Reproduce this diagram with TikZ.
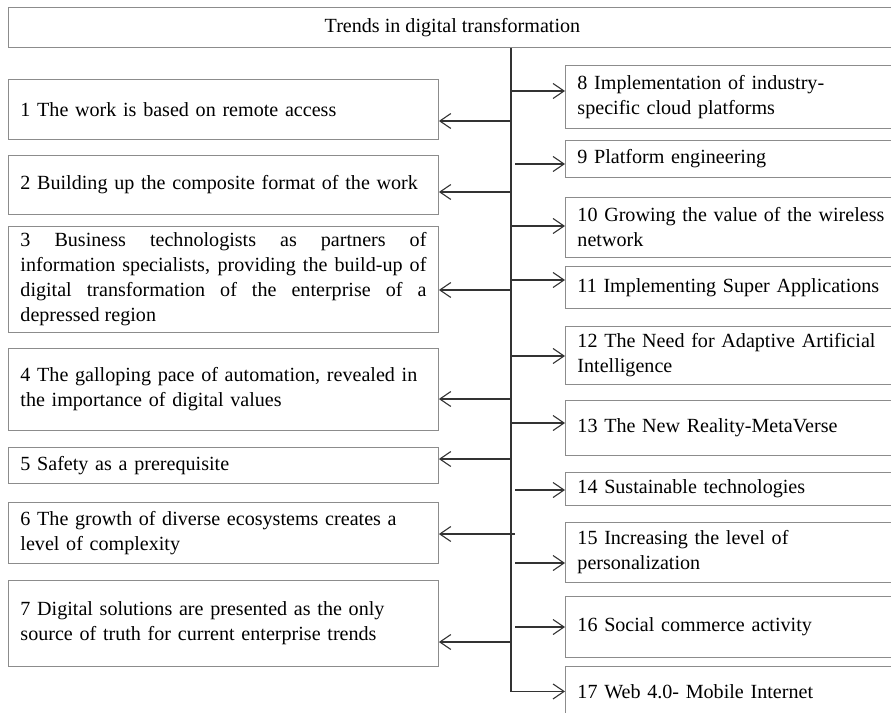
\documentclass[tikz,border=0pt]{standalone}
\usepackage{fontspec}
\setmainfont{Liberation Serif}
\usetikzlibrary{arrows.meta}

\begin{document}
\begin{tikzpicture}[x=1pt,y=-1pt,
  font=\fontsize{20.1}{25}\selectfont,
  trend/.style={draw=black!45,line width=0.9pt,inner xsep=12pt,inner ysep=0pt,
    anchor=north west,align=left},
  lefttrend/.style={trend,text width=406pt},
  righttrend/.style={trend,text width=331pt},
  branch/.style={draw=black!80,line width=1.1pt,-{Straight Barb[length=11pt,width=15pt]}}]
\useasboundingbox (0,0) rectangle (891,712);
\def\tx{511}
\node[trend,minimum width=888pt,minimum height=40pt,align=center] (title) at (8,7) {Trends in digital transformation};
% left column
\node[lefttrend,minimum height=60pt] (t1) at (8,79) {1 The work is based on remote access};
\node[lefttrend,minimum height=59pt] (t2) at (8,155) {2 Building up the composite format of the work};
\node[lefttrend,minimum height=106pt,align=justify] (t3) at (8,226) {3 Business technologists as partners of\linebreak information specialists, providing the build-up of\linebreak digital transformation of the enterprise of a\linebreak depressed region};
\node[lefttrend,minimum height=82pt] (t4) at (8,348) {4 The galloping pace of automation, revealed in\\the importance of digital values};
\node[lefttrend,minimum height=36pt] (t5) at (8,447) {5 Safety as a prerequisite};
\node[lefttrend,minimum height=61pt] (t6) at (8,502) {6 The growth of diverse ecosystems creates a\\level of complexity};
\node[lefttrend,minimum height=86pt] (t7) at (8,580) {7 Digital solutions are presented as the only\\source of truth for current enterprise trends};
% right column
\node[righttrend,minimum height=63pt] (t8) at (565,65) {8 Implementation of industry-\\specific cloud platforms};
\node[righttrend,minimum height=37pt] (t9) at (565,140) {9 Platform engineering};
\node[righttrend,minimum height=60pt] (t10) at (565,197) {10 Growing the value of the wireless\\network};
\node[righttrend,minimum height=42pt] (t11) at (565,266) {11 Implementing Super Applications};
\node[righttrend,minimum height=58pt] (t12) at (565,326) {12 The Need for Adaptive Artificial\\Intelligence};
\node[righttrend,minimum height=55pt] (t13) at (565,400) {13 The New Reality-MetaVerse};
\node[righttrend,minimum height=33pt] (t14) at (565,472) {14 Sustainable technologies};
\node[righttrend,minimum height=60pt] (t15) at (565,522) {15 Increasing the level of\\personalization};
\node[righttrend,minimum height=61pt] (t16) at (565,596) {16 Social commerce activity};
\node[righttrend,minimum height=50pt] (t17) at (565,666) {17 Web 4.0- Mobile Internet};
% branches
\foreach \n/\x/\y in {1/511/121,2/511/192,3/511/290,4/511/399,5/511/459,6/515/534,7/511/642}{
  \coordinate (s\n) at (\x,\y);
  \draw[branch] (s\n) -- (s\n -| t\n.east);
}
\foreach \n/\x/\y in {8/511/91,9/515/164,10/511/226,11/511/280,12/511/356,13/511/423,14/515/490,15/515/563,16/515/627}{
  \coordinate (s\n) at (\x,\y);
  \draw[branch] (s\n) -- (s\n -| t\n.west);
}
\draw[branch] (title.south -| s1) |- (t17.west);
\end{tikzpicture}
\end{document}
